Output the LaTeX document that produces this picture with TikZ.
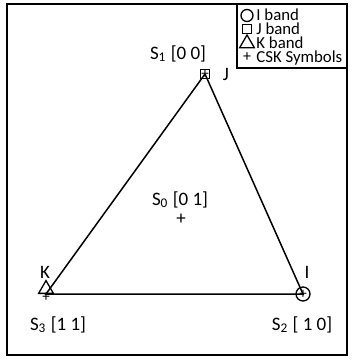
\documentclass[tikz,border=0pt]{standalone}
\usepackage{fontspec}
\setmainfont{Carlito}
\usetikzlibrary{shapes.geometric}

\begin{document}
\begin{tikzpicture}[
    x=0.5pt, y=-0.5pt,
    font=\fontsize{9.5}{11}\selectfont,
    edge/.style={line width=0.75pt},
    lab/.style={inner sep=0pt, anchor=base},
    key/.style={inner sep=0pt, anchor=base west, font=\fontsize{8.4}{9}\selectfont},
    mkcirc/.style={draw, circle, line width=0.65pt, minimum size=#1, inner sep=0pt},
    mksq/.style={draw, rectangle, line width=0.65pt, minimum size=#1, inner sep=0pt},
    mktri/.style={draw, regular polygon, regular polygon sides=3, line width=0.65pt,
                  minimum size=#1, inner sep=0pt},
    mkplus/.style={inner sep=0pt, font=\fontsize{#1}{#1}\selectfont},
  ]
  \useasboundingbox (0,0) rectangle (352,360);

  %% ---- frame and legend ----
  \draw[line width=1pt] (7,4) rectangle (347,355);
  \draw[line width=0.6pt] (237,4) rectangle (347,68);

  \node[mkcirc=6pt]  (kI) at (247,15.5) {};
  \node[mksq=4.5pt]  (kJ) at (247,29)   {};
  \node[mktri=8.5pt] (kK) at (247,43.5) {};
  \node[mkplus=8]    (kP) at (247,57)   {+};
  \node[key] (tI) at (256,20) {I band};
  \node[key] (tJ) at (256,34) {J band};
  \node[key] (tK) at (256,48) {K band};
  \node[key] (tP) at (256,62) {CSK Symbols};

  %% ---- constellation triangle ----
  \coordinate (J) at (205,74);
  \coordinate (K) at (46,294);
  \coordinate (I) at (303,294);

  \draw[edge] (J) -- (K) -- (I) -- (J);

  \node[mksq=4.2pt]              (mJ) at (J) {};
  \node[mktri=8.5pt, anchor=side 2] (mK) at (K) {};
  \node[mkcirc=7pt]              (mI) at (I) {};
  \node[mkplus=7.5] at (J) {+};
  \node[mkplus=7.5] at ([yshift=-1.5pt]K) {+};
  \node[mkplus=7.5] at (I) {+};

  %% ---- labels ----
  \node[lab] (s1) at (178,59)  {S\textsubscript{1} [0 0]};
  \node[lab] (lJ) at (226,80)  {J};
  \node[lab] (s0) at (180,205) {S\textsubscript{0} [0 1]};
  \node[mkplus=9.5] (s0p) at (181,219) {+};
  \node[lab] (lK) at (45,278)  {K};
  \node[lab] (lI) at (307,278) {I};
  \node[lab] (s3) at (58,330)  {S\textsubscript{3} [1 1]};
  \node[lab] (s2) at (302,330) {S\textsubscript{2} [ 1 0]};

\end{tikzpicture}
\end{document}
